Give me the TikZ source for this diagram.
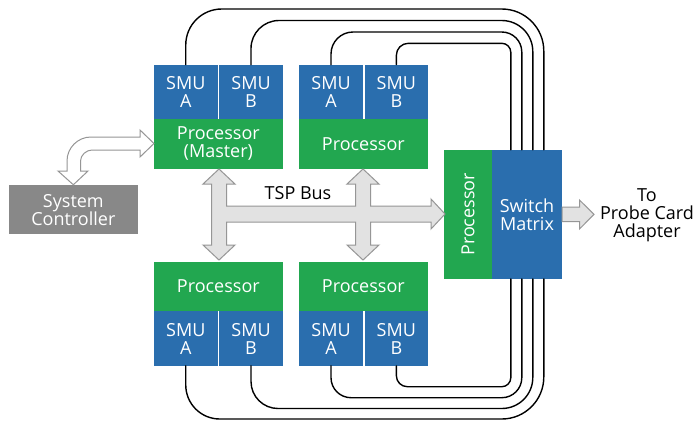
\documentclass[tikz,border=0pt]{standalone}
\usepackage{fontspec}
\setmainfont{Open Sans}
\definecolor{smublue}{RGB}{42,110,174}
\definecolor{procgreen}{RGB}{34,167,80}
\definecolor{ctrlgray}{RGB}{136,136,136}
\definecolor{busfill}{RGB}{226,226,226}
\definecolor{busline}{RGB}{150,150,150}
\newcommand{\blockfont}{\fontsize{18}{18}\selectfont}

\tikzset{
  smu/.style={fill=smublue, text=white, minimum width=63.5pt, minimum height=54.4pt,
    inner sep=0pt, align=center, font=\blockfont},
  proc/.style={fill=procgreen, text=white, minimum width=128.7pt, minimum height=49.4pt,
    inner sep=0pt, align=center, font=\blockfont},
  ctrl/.style={fill=ctrlgray, text=white, minimum width=128.7pt, minimum height=49.4pt,
    inner sep=0pt, align=center, font=\blockfont},
  wire/.style={black, line width=1.4pt},
  fat/.style={draw=busline, fill=busfill, line width=1pt, line join=miter},
}

\begin{document}
\begin{tikzpicture}[x=1pt,y=-1pt,line cap=round]
  \useasboundingbox[fill=white] (0,0) rectangle (696,421);

  % upper units
  \node[smu] (tA1) at (185.75,92) {SMU\\A};
  \node[smu] (tB1) at (251,92) {SMU\\B};
  \node[proc] (tP1) at (218.35,143.85) {Processor\\(Master)};
  \node[smu] (tA2) at (331,92) {SMU\\A};
  \node[smu] (tB2) at (396.35,92) {SMU\\B};
  \node[proc] (tP2) at (363.35,143.85) {Processor};

  % lower units
  \node[proc] (bP1) at (218.35,286.65) {Processor};
  \node[smu] (bA1) at (185.75,338.5) {SMU\\A};
  \node[smu] (bB1) at (251,338.5) {SMU\\B};
  \node[proc] (bP2) at (363.35,286.65) {Processor};
  \node[smu] (bA2) at (331,338.5) {SMU\\A};
  \node[smu] (bB2) at (396.35,338.5) {SMU\\B};

  % switch block
  \node[proc, rotate=90, minimum width=128.7pt, minimum height=48pt] (swP) at (468,214.35) {Processor};
  \node[smu, minimum width=70pt, minimum height=128.7pt] (sw) at (527,214.35) {Switch\\Matrix};

  \node[ctrl] (sc) at (73.35,209.65) {System\\Controller};
  \node[font=\blockfont, align=center] (probe) at (647,215) {To\\Probe Card\\Adapter};

  % wires to the switch matrix
  \draw[wire] (tA1.north) [rounded corners=36pt] |- (440,9) [rounded corners=42pt] -| ([xshift=52pt]sw.north west);
  \draw[wire] (tB1.north) [rounded corners=28pt] |- (440,20.5) [rounded corners=31pt] -| ([xshift=41pt]sw.north west);
  \draw[wire] (tA2.north) [rounded corners=22pt] |- (440,32) [rounded corners=20pt] -| ([xshift=30pt]sw.north west);
  \draw[wire] (tB2.north) [rounded corners=12pt] |- (440,43.3) [rounded corners=9pt] -| ([xshift=19pt]sw.north west);
  \draw[wire] (bA1.south) [rounded corners=34pt] |- (440,419) [rounded corners=42pt] -| ([xshift=52pt]sw.south west);
  \draw[wire] (bB1.south) [rounded corners=27pt] |- (440,408.5) [rounded corners=31pt] -| ([xshift=41pt]sw.south west);
  \draw[wire] (bA2.south) [rounded corners=20pt] |- (440,397.7) [rounded corners=20pt] -| ([xshift=30pt]sw.south west);
  \draw[wire] (bB2.south) [rounded corners=11pt] |- (440,386.7) [rounded corners=9pt] -| ([xshift=19pt]sw.south west);

  % TSP bus
  \draw[fat] (219,169) -- (235,184) -- (226.5,184) -- (226.5,206) -- (355.5,206) -- (355.5,184)
    -- (347,184) -- (363,169) -- (379,184) -- (370.5,184) -- (370.5,206) -- (431,206) -- (431,199)
    -- (445,214) -- (431,229) -- (431,222) -- (370.5,222) -- (370.5,245) -- (379,245) -- (363,260)
    -- (347,245) -- (355.5,245) -- (355.5,222) -- (226.5,222) -- (226.5,245) -- (235,245) -- (219,260)
    -- (203,245) -- (211.5,245) -- (211.5,184) -- (203,184) -- cycle;
  \node[font=\blockfont] (tsp) at (298,193) {TSP Bus};

  % controller link
  \draw[fat, fill=white] (sc.north) -- (88,171) -- (80.5,171) -- (80.5,161)
    .. controls (80.5,155) and (86.5,150) .. (92,150) -- (140,150) -- (140,157) -- (154,143.5)
    -- (140,130) -- (140,137) -- (91,137) .. controls (77.8,137) and (67,147.8) .. (67,161)
    -- (67,171) -- (58,171) -- cycle;

  % output
  \draw[fat] (sw.east |- 0,207) -- (579.5,207) -- (579.5,200) -- (594,214.35) -- (579.5,229)
    -- (579.5,221.7) -- (sw.east |- 0,221.7) -- cycle;
\end{tikzpicture}
\end{document}
